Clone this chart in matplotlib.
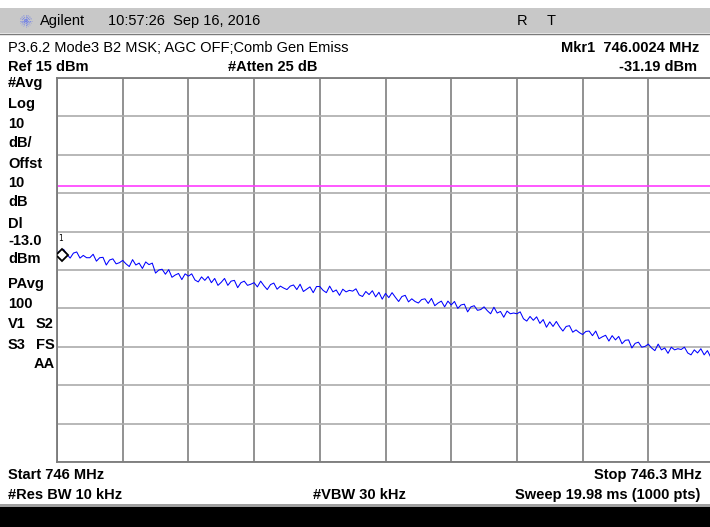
import matplotlib
matplotlib.use("Agg")
import matplotlib.pyplot as plt
from matplotlib.patches import Rectangle
from matplotlib.lines import Line2D
import numpy as np

# ---------------- data ----------------
start_mhz = 746.0
stop_mhz = 746.3
ref_level = 15.0
db_per_div = 10.0
display_line = -13.0
marker_freq = 746.0024
marker_level = -31.19

trace_dbm = [
    -29.9, -31.0, -29.6, -30.9, -31.9, -30.6, -30.3, -31.9, -31.2, -31.8,
    -31.8, -30.9, -32.7, -31.8, -31.7, -33.7, -32.4, -32.1, -33.4, -33.1,
    -32.5, -33.4, -34.1, -32.3, -33.7, -33.2, -34.6, -32.9, -33.6, -33.2,
    -35.8, -35.0, -34.8, -36.1, -34.9, -36.9, -36.3, -35.9, -37.5, -36.0,
    -36.6, -36.0, -37.6, -38.1, -36.8, -37.7, -36.7, -38.3, -37.2, -39.0,
    -38.2, -37.2, -39.0, -37.9, -37.7, -39.6, -38.3, -37.9, -39.0, -38.7,
    -38.3, -39.4, -37.9, -39.1, -40.1, -38.8, -38.4, -40.0, -39.2, -39.7,
    -40.1, -39.2, -38.9, -40.1, -38.7, -40.6, -40.0, -39.4, -40.9, -39.3,
    -39.3, -40.3, -40.9, -39.2, -40.7, -40.2, -41.6, -40.0, -40.7, -40.3,
    -40.5, -39.9, -41.5, -41.9, -40.6, -41.4, -40.4, -42.0, -40.8, -42.6,
    -41.1, -42.2, -40.9, -42.1, -43.2, -41.9, -41.6, -43.3, -42.5, -43.2,
    -43.6, -42.7, -42.5, -43.7, -42.4, -44.3, -43.6, -43.1, -44.6, -43.1,
    -44.1, -43.2, -45.0, -44.1, -43.9, -45.9, -44.6, -44.3, -45.5, -45.3,
    -44.6, -45.6, -46.4, -44.7, -46.2, -45.8, -47.3, -45.7, -46.4, -46.2,
    -46.4, -45.9, -47.7, -48.3, -47.1, -48.1, -47.2, -48.9, -47.9, -49.9,
    -48.5, -49.7, -48.4, -49.8, -50.9, -49.7, -49.5, -51.2, -50.6, -51.3,
    -51.8, -51.0, -50.9, -52.1, -50.9, -52.9, -52.4, -52.0, -53.5, -52.1,
    -53.2, -52.3, -54.2, -53.3, -53.2, -55.3, -54.1, -53.8, -55.1, -54.9,
    -54.3, -55.3, -56.0, -54.3, -55.8, -55.3, -56.7, -55.1, -55.8, -55.5,
    -55.7, -55.1, -56.6, -57.1, -55.8, -56.6, -55.5, -57.1, -56.0, -57.7,
    -56.6,
]
trace_freq = np.linspace(start_mhz, stop_mhz, len(trace_dbm))

left_labels = [
    ("#Avg", 83), ("Log", 104), ("10", 124), ("dB/", 143), ("Offst", 164),
    ("10", 183), ("dB", 202), ("Dl", 224), ("-13.0", 241), ("dBm", 259),
    ("PAvg", 284), ("100", 304),
]

# ---------------- figure ----------------
W, H = 710, 527
fig = plt.figure(figsize=(W / 100, H / 100), dpi=100)
fig.patch.set_facecolor("white")

def fx(x):
    return x / W

def fy(y):
    return 1 - y / H

REG = dict(family=["Liberation Sans", "DejaVu Sans"], fontsize=10.5, color="black")
BOLD = dict(family=["Liberation Sans", "DejaVu Sans"],
            fontsize=10.5, fontweight="bold", color="black")

# header bar
fig.add_artist(Rectangle((0, fy(33)), 1, (33 - 8) / H, transform=fig.transFigure,
                         facecolor="#c8c8c8", edgecolor="none"))
fig.add_artist(Line2D([0, 1], [fy(33.5), fy(33.5)], transform=fig.transFigure,
                      color="#7a7a7a", lw=1.0))
# agilent starburst icon
cx, cy = 26, 21
for ang in np.arange(0, 180, 22.5):
    a = np.deg2rad(ang)
    dx, dy = 6 * np.cos(a), 6 * np.sin(a)
    fig.add_artist(Line2D([fx(cx - dx), fx(cx + dx)], [fy(cy - dy), fy(cy + dy)],
                          transform=fig.transFigure, color="#6f7fe8", lw=0.7,
                          linestyle=(0, (1, 1))))
fig.text(fx(40), fy(21), "Agilent", ha="left", va="center", **REG)
fig.text(fx(108), fy(21), "10:57:26  Sep 16, 2016", ha="left", va="center", **REG)
fig.text(fx(517), fy(21), "R", ha="left", va="center", **REG)
fig.text(fx(547), fy(21), "T", ha="left", va="center", **REG)

fig.text(fx(8), fy(48), "P3.6.2 Mode3 B2 MSK; AGC OFF;Comb Gen Emiss",
         ha="left", va="center", **REG)
fig.text(fx(699), fy(48), "Mkr1  746.0024 MHz", ha="right", va="center", **BOLD)
fig.text(fx(8), fy(67), "Ref 15 dBm", ha="left", va="center", **BOLD)
fig.text(fx(228), fy(67), "#Atten 25 dB", ha="left", va="center", **BOLD)
fig.text(fx(697), fy(67), "-31.19 dBm", ha="right", va="center", **BOLD)

for txt, y in left_labels:
    fig.text(fx(8), fy(y), txt, ha="left", va="center", **BOLD)
fig.text(fx(8), fy(324), "V1", ha="left", va="center", **BOLD)
fig.text(fx(36), fy(324), "S2", ha="left", va="center", **BOLD)
fig.text(fx(8), fy(345), "S3", ha="left", va="center", **BOLD)
fig.text(fx(36), fy(345), "FS", ha="left", va="center", **BOLD)
fig.text(fx(55), fy(364), "AA", ha="right", va="center", **BOLD)

fig.text(fx(8), fy(475), "Start 746 MHz", ha="left", va="center", **BOLD)
fig.text(fx(702), fy(475), "Stop 746.3 MHz", ha="right", va="center", **BOLD)
fig.text(fx(8), fy(495), "#Res BW 10 kHz", ha="left", va="center", **BOLD)
fig.text(fx(313), fy(495), "#VBW 30 kHz", ha="left", va="center", **BOLD)
fig.text(fx(700), fy(495), "Sweep 19.98 ms (1000 pts)", ha="right", va="center", **BOLD)

# bottom black bar
fig.add_artist(Rectangle((0, 0), 1, (H - 504) / H, transform=fig.transFigure,
                         facecolor="#a0a0a0", edgecolor="none"))
fig.add_artist(Rectangle((0, 0), 1, (H - 507) / H, transform=fig.transFigure,
                         facecolor="black", edgecolor="none"))

# ---------------- plot area ----------------
x0, x1, y0, y1 = 57, 714, 78, 462
ax = fig.add_axes([fx(x0), fy(y1), (x1 - x0) / W, (y1 - y0) / H])
ax.set_facecolor("white")
bottom = ref_level - 10 * db_per_div
ax.set_xlim(start_mhz, stop_mhz)
ax.set_ylim(bottom, ref_level)
ax.set_xticks(np.linspace(start_mhz, stop_mhz, 11))
ax.set_yticks(np.linspace(bottom, ref_level, 11))
ax.tick_params(length=0, labelbottom=False, labelleft=False)
for s in ax.spines.values():
    s.set_color("#7a7a7a")
    s.set_linewidth(1.3)
ax.xaxis.grid(True, color="#7f7f7f", lw=1.2)
ax.yaxis.grid(True, color="#ababab", lw=1.2)
ax.set_axisbelow(True)

ax.axhline(display_line, color="#ff3cff", lw=1.2)
ax.plot(trace_freq, trace_dbm, color="#0000ff", lw=0.75)
ax.plot([marker_freq], [marker_level], marker="D", ms=6, mfc="white",
        mec="black", mew=1.3, linestyle="none", zorder=5)
ax.annotate("1", (marker_freq, marker_level), xytext=(-3, 9),
            textcoords="offset points", fontsize=5.5, color="black",
            family=["DejaVu Sans"], ha="left", va="bottom")

fig.savefig("out.png", dpi=100)
